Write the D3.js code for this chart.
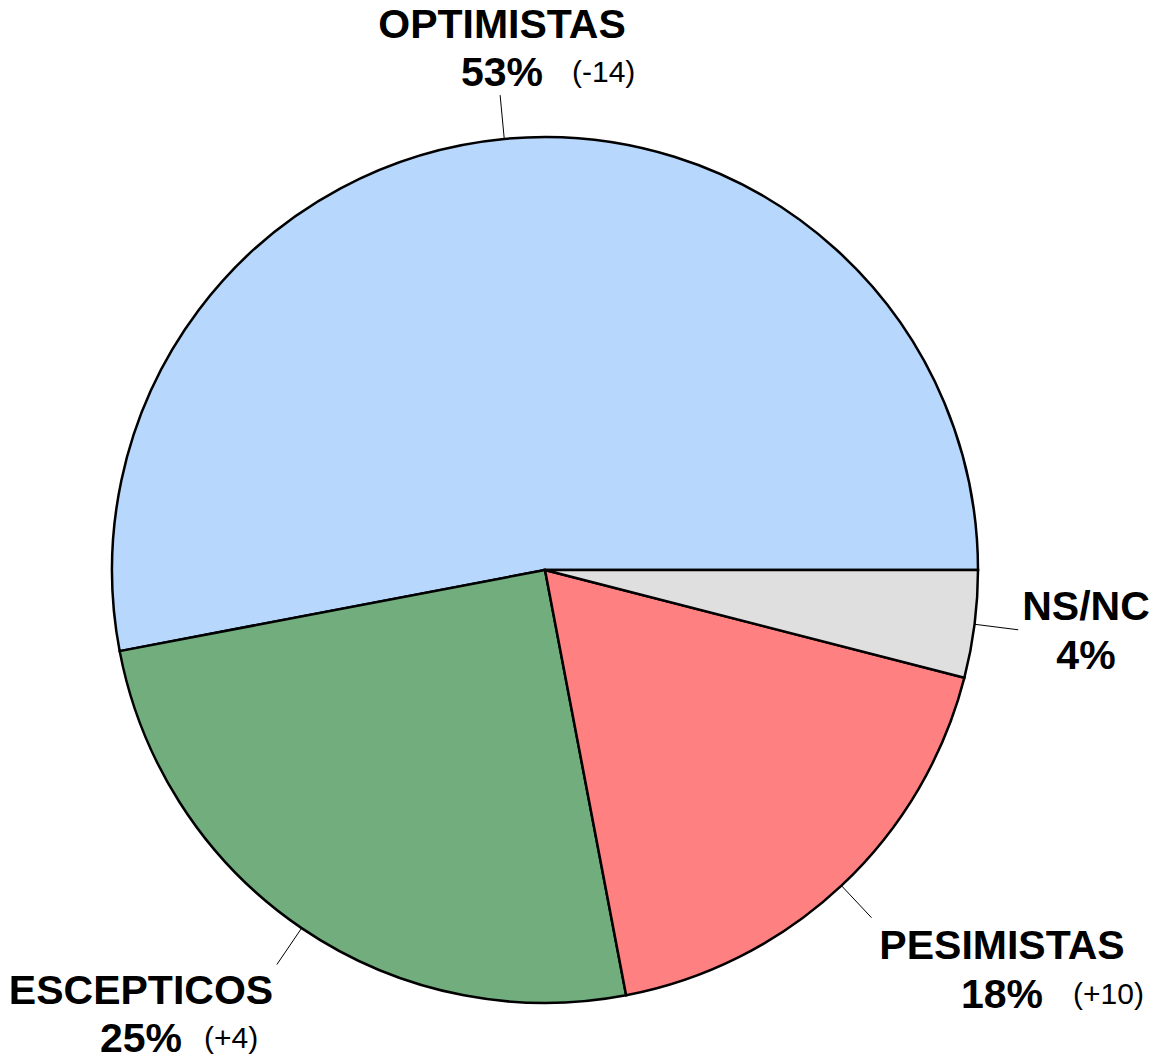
<!DOCTYPE html>
<html>
<head>
<meta charset="utf-8">
<script src="https://cdn.jsdelivr.net/npm/d3@7"></script>
<style>
  html, body { margin: 0; padding: 0; background: #ffffff; }
  svg { display: block; }
  text { font-family: "Liberation Sans", Arial, Helvetica, sans-serif; fill: #000; }
</style>
</head>
<body>
<svg id="chart" width="1153" height="1061"></svg>
<script>
// ---- data ----
const categories = ["OPTIMISTAS", "ESCEPTICOS", "PESIMISTAS", "NS/NC"];
const values = [53, 25, 18, 4];
const changes = ["(-14)", "(+4)", "(+10)", ""];
const colors = ["#b7d7fc", "#72ad7e", "#ff8080", "#dfdfdf"];

// ---- layout (label anchors: centre x, label baseline, line gap, delta x) ----
const labelLayout = [
  { cx: 502, y: 38, gap: 48, dx: 572 },
  { cx: 141, y: 1004, gap: 48, dx: 204 },
  { cx: 1002, y: 959, gap: 49, dx: 1073 },
  { cx: 1086, y: 620, gap: 49, dx: 0 }
];

const svg = d3.select("#chart");
const cx = 545, cy = 570, R = 433;

const pie = d3.pie()
  .sort(null)
  .value(d => d)
  .startAngle(Math.PI / 2)
  .endAngle(Math.PI / 2 - 2 * Math.PI);

const arcs = pie(values);
const arc = d3.arc().innerRadius(0).outerRadius(R);

const g = svg.append("g").attr("transform", `translate(${cx},${cy})`);

g.selectAll("path.slice")
  .data(arcs)
  .join("path")
  .attr("class", "slice")
  .attr("d", arc)
  .attr("fill", (d, i) => colors[i])
  .attr("stroke", "#000")
  .attr("stroke-width", 2.5)
  .attr("stroke-linejoin", "miter");

// leader lines
g.selectAll("line.leader")
  .data(arcs)
  .join("line")
  .attr("class", "leader")
  .each(function (d) {
    const mid = (d.startAngle + d.endAngle) / 2;
    const p0 = d3.pointRadial(mid, R);
    const p1 = d3.pointRadial(mid, R + 44);
    d3.select(this)
      .attr("x1", p0[0]).attr("y1", p0[1])
      .attr("x2", p1[0]).attr("y2", p1[1]);
  })
  .attr("stroke", "#000")
  .attr("stroke-width", 1);

// labels
const lg = svg.append("g");
categories.forEach((c, i) => {
  const L = labelLayout[i];
  lg.append("text")
    .attr("x", L.cx).attr("y", L.y)
    .attr("text-anchor", "middle")
    .style("font-size", "41px").style("font-weight", "bold")
    .text(c);
  lg.append("text")
    .attr("x", L.cx).attr("y", L.y + L.gap)
    .attr("text-anchor", "middle")
    .style("font-size", "41px").style("font-weight", "bold")
    .text(values[i] + "%");
  if (changes[i]) {
    lg.append("text")
      .attr("x", L.dx).attr("y", L.y + L.gap - 4)
      .attr("text-anchor", "start")
      .style("font-size", "30px").style("font-weight", "normal")
      .text(changes[i]);
  }
});
</script>
</body>
</html>
